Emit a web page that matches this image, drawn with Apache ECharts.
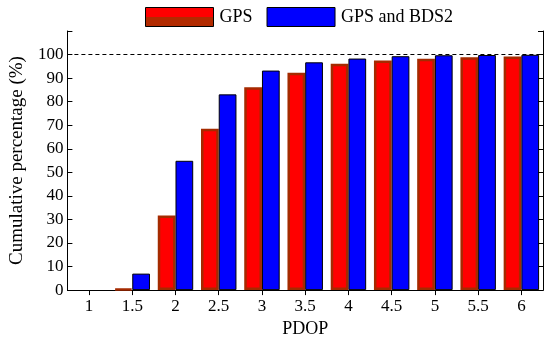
<!DOCTYPE html>
<html>
<head>
<meta charset="utf-8">
<script src="https://cdn.jsdelivr.net/npm/echarts@6/dist/echarts.min.js"></script>
<style>
html,body{margin:0;padding:0;background:#fff;}
#chart{width:550px;height:343px;}
</style>
</head>
<body>
<div id="chart"></div>
<script>
var categories = ['1','1.5','2','2.5','3','3.5','4','4.5','5','5.5','6'];
var gpsValues = [0, 0.5, 31.7, 68.5, 86.1, 92.3, 96.1, 97.5, 98.2, 98.9, 99.2];
var gpsBdsValues = [0, 7.0, 54.9, 83.1, 93.2, 96.7, 98.3, 99.3, 99.7, 99.8, 99.9];
var yTicks = [0,10,20,30,40,50,60,70,80,90,100];
var seriesNames = ['GPS', 'GPS and BDS2'];
var refLine = 100;

function noZero(arr) { return arr.map(function (v) { return v === 0 ? '-' : v; }); }

var font = 'Liberation Serif';
var chart = echarts.init(document.getElementById('chart'));
chart.setOption({
  animation: false,
  backgroundColor: '#fff',
  textStyle: {fontFamily: font},
  legend: {
    top: 2, left: 140,
    itemWidth: 68, itemHeight: 19, itemGap: 14,
    textStyle: {fontFamily: font, fontSize: 18, color: '#000', padding: [0,0,0,1]},
    data: [
      {name: seriesNames[0], icon: 'rect', itemStyle: {
        color: {type: 'linear', x: 0, y: 0, x2: 0, y2: 1, colorStops: [
          {offset: 0, color: '#ff0000'}, {offset: 0.5, color: '#ff0000'},
          {offset: 0.5, color: '#b22a00'}, {offset: 1, color: '#b22a00'}]},
        borderColor: '#000', borderWidth: 1}},
      {name: seriesNames[1], icon: 'rect', itemStyle: {color: '#0000ff', borderColor: '#000', borderWidth: 1}}
    ]
  },
  grid: {left: 58, right: 7, top: 31, bottom: 50},
  xAxis: [{
    type: 'category', data: categories, position: 'bottom',
    name: 'PDOP', nameLocation: 'middle', nameGap: 29,
    nameTextStyle: {fontFamily: font, fontSize: 18, color: '#000'},
    axisLine: {lineStyle: {color: '#000', width: 1}},
    axisTick: {show: false},
    axisLabel: {fontFamily: font, fontSize: 17, color: '#000', margin: 8}
  }, {
    type: 'category', data: categories, position: 'top',
    axisLine: {show: true, lineStyle: {color: '#000', width: 1}},
    axisTick: {show: true, inside: true, alignWithLabel: true, length: 5, lineStyle: {color: '#000'}},
    axisLabel: {show: false}
  }],
  yAxis: [{
    type: 'value', min: 0, max: 110, interval: 10,
    name: 'Cumulative percentage (%)', nameLocation: 'middle', nameGap: 40,
    nameTextStyle: {fontFamily: font, fontSize: 19, color: '#000'},
    axisLine: {show: true, lineStyle: {color: '#000', width: 1}},
    axisTick: {show: true, inside: true, length: 5, lineStyle: {color: '#000'}},
    splitLine: {show: false},
    axisLabel: {fontFamily: font, fontSize: 17, color: '#000', margin: 4,
      formatter: function (v) { return yTicks.indexOf(v) >= 0 ? String(v) : ''; }}
  }, {
    type: 'value', min: 0, max: 110, interval: 10, position: 'right',
    axisLine: {show: true, lineStyle: {color: '#000', width: 1}},
    axisTick: {show: true, inside: true, length: 5, lineStyle: {color: '#000'}},
    splitLine: {show: false},
    axisLabel: {show: false}
  }],
  series: [{
    name: seriesNames[0], type: 'bar', data: noZero(gpsValues),
    barGap: '0%', barCategoryGap: '18%',
    itemStyle: {color: '#ff0000', borderColor: '#a52a00', borderWidth: 2.5},
    markLine: {
      silent: true, symbol: 'none', label: {show: false},
      lineStyle: {color: '#000', type: [4, 3], width: 1},
      data: [{yAxis: refLine}]
    }
  }, {
    name: seriesNames[1], type: 'bar', data: noZero(gpsBdsValues),
    itemStyle: {color: '#0000ff', borderColor: '#000', borderWidth: 1}
  }]
});
</script>
</body>
</html>
